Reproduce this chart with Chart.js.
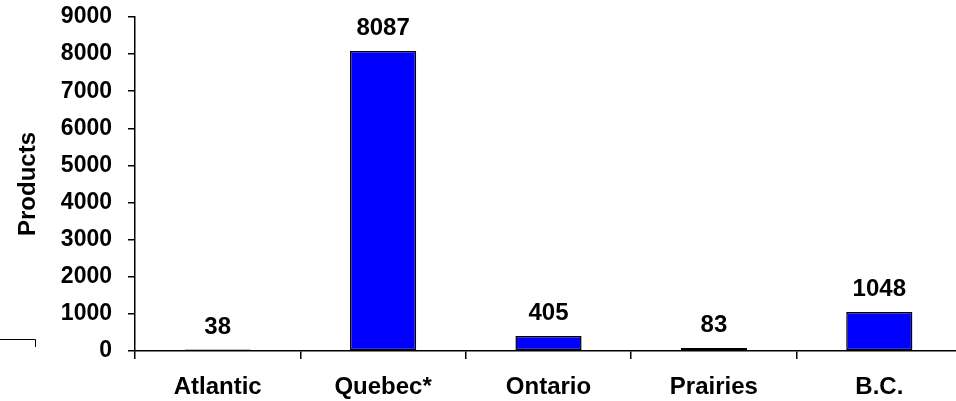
<!DOCTYPE html>
<html>
<head>
<meta charset="utf-8">
<script src="https://cdn.jsdelivr.net/npm/chart.js@4/dist/chart.umd.min.js"></script>
<style>
    html, body { margin: 0; padding: 0; background: #fff; overflow: hidden; }
    #wrap { position: absolute; left: 0; top: 0; width: 962px; height: 401px; }
</style>
</head>
<body>
<div id="wrap"><canvas id="chart-products"></canvas></div>
<script>
// Productos por región
const categories = ['Atlantic', 'Quebec*', 'Ontario', 'Prairies', 'B.C.'];
const products = [38, 8087, 405, 83, 1048];
const yMin = 0;
const yMax = 9000;
const yStep = 1000;

const FONT = "'Liberation Sans', Arial, sans-serif";

// Etiquetas de valor encima de cada barra
const valueLabels = {
    id: 'valueLabels',
    afterDatasetsDraw(chart) {
        const {ctx} = chart;
        const meta = chart.getDatasetMeta(0);
        ctx.save();
        ctx.fillStyle = '#000';
        ctx.font = 'bold 24px ' + FONT;
        ctx.textAlign = 'center';
        ctx.textBaseline = 'alphabetic';
        meta.data.forEach((bar, i) => {
            ctx.fillText(String(chart.data.datasets[0].data[i]), bar.x, bar.y - 16);
        });
        ctx.restore();
    }
};

// Trazo suelto en la esquina inferior izquierda
const cornerMark = {
    id: 'cornerMark',
    afterDraw(chart) {
        const {ctx} = chart;
        ctx.save();
        ctx.strokeStyle = '#000';
        ctx.lineWidth = 1;
        ctx.beginPath();
        ctx.moveTo(0, 339.5);
        ctx.lineTo(35.5, 339.5);
        ctx.lineTo(35.5, 347);
        ctx.stroke();
        ctx.restore();
    }
};

new Chart(document.getElementById('chart-products'), {
    type: 'bar',
    data: {
        labels: categories,
        datasets: [{
            data: products,
            backgroundColor: '#0000ff',
            borderColor: '#000',
            borderWidth: 1.5,
            borderSkipped: false,
            barPercentage: 0.4,
            categoryPercentage: 1.0
        }]
    },
    options: {
        responsive: true,
        maintainAspectRatio: false,
        animation: false,
        layout: { padding: { top: 17, right: 0, bottom: 0, left: 0 } },
        plugins: {
            legend: { display: false },
            tooltip: { enabled: false }
        },
        scales: {
            x: {
                grid: {
                    offset: true,
                    drawOnChartArea: false,
                    color: '#000',
                    lineWidth: 1.5,
                    tickLength: 8
                },
                border: { color: '#000', width: 1.5 },
                ticks: {
                    color: '#000',
                    padding: 14,
                    font: { family: FONT, size: 24, weight: 'bold' }
                },
                afterFit(scale) {
                    scale.height = 50;
                    scale.paddingLeft = 0;
                    scale.paddingRight = 0;
                }
            },
            y: {
                min: yMin,
                max: yMax,
                grid: {
                    drawOnChartArea: false,
                    color: '#000',
                    lineWidth: 1.5,
                    tickLength: 7
                },
                border: { color: '#000', width: 1.5 },
                ticks: {
                    stepSize: yStep,
                    color: '#000',
                    padding: 16,
                    font: { family: FONT, size: 23, weight: 'bold' },
                    callback: (v) => String(v)
                },
                title: {
                    display: true,
                    text: 'Products',
                    color: '#000',
                    padding: { top: 14, bottom: 0 },
                    font: { family: FONT, size: 24, weight: 'bold' }
                },
                afterFit(scale) {
                    scale.width = 135;
                    scale.paddingTop = 0;
                    scale.paddingBottom = 0;
                }
            }
        }
    },
    plugins: [valueLabels, cornerMark]
});
</script>
</body>
</html>
